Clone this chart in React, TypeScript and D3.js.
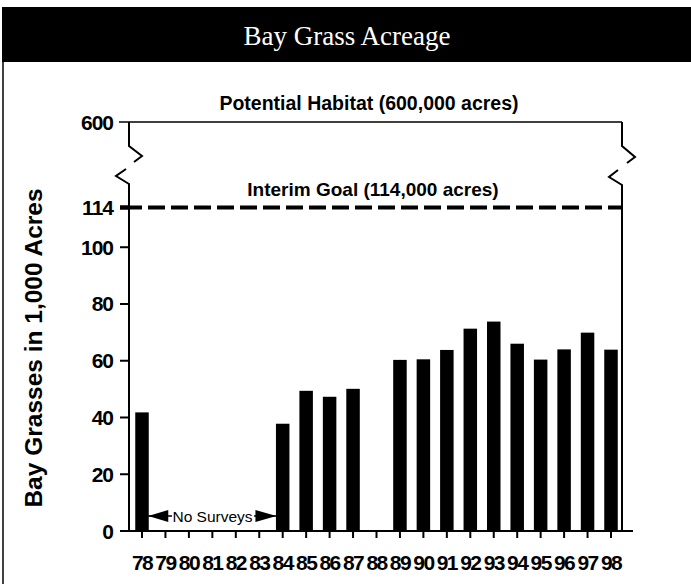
import React from "react";
import * as d3 from "d3";

const years = ["78","79","80","81","82","83","84","85","86","87","88","89","90","91","92","93","94","95","96","97","98"];
const acreage: (number | null)[] = [41.8, null, null, null, null, null, 37.8, 49.4, 47.3, 50.1, null, 60.3, 60.5, 63.8, 71.3, 73.8, 66.0, 60.4, 64.0, 69.9, 63.9];
const yTicks = [0, 20, 40, 60, 80, 100, 114, 600];
const potentialValue = 600;
const goalValue = 114;
const titleText = "Bay Grass Acreage";
const yLabel = "Bay Grasses in 1,000 Acres";
const potentialLabel = "Potential Habitat (600,000 acres)";
const goalLabel = "Interim Goal (114,000 acres)";
const noSurveyLabel = "No Surveys";

export default function App() {
  const W = 691, H = 584;
  const axL = 129, axR = 622;
  const y = d3.scaleLinear().domain([0, 114, 600]).range([531, 207.5, 122]);
  const x = d3.scalePoint<string>().domain(years).range([142, 611]);
  const barW = 13.5;
  const font = "'Liberation Sans', Arial, Helvetica, sans-serif";
  const y0 = y(0);
  const yTop = y(potentialValue);
  const yGoal = y(goalValue);
  const arrowY = 516;
  const xStart = (x("78") as number) + barW / 2 - 0.5;
  const xEnd = (x("84") as number) - barW / 2 + 0.5;

  return (
    <svg width={W} height={H} style={{ position: "absolute", left: 0, top: 0, background: "#fff" }}>
      <rect x={0} y={0} width={W} height={H} fill="#fff" />
      {/* header */}
      <rect x={2} y={7} width={W - 2} height={55} fill="#000" />
      <text x={347} y={45} textAnchor="middle" fill="#fff" fontFamily="'Liberation Serif', 'Times New Roman', serif" fontSize={27}>{titleText}</text>
      <line x1={3} x2={3} y1={62} y2={H} stroke="#000" strokeWidth={1.5} />

      {/* top potential line */}
      <line x1={119} x2={axR} y1={yTop} y2={yTop} stroke="#000" strokeWidth={1.5} />
      {/* left axis with break */}
      <path d={`M${axL},${yTop} L${axL},146 L142,156 L134,162 M126,169 L116,176 L${axL},184 L${axL},${y0}`} fill="none" stroke="#000" strokeWidth={2} />
      {/* right axis with break */}
      <path d={`M${axR},${yTop} L${axR},146 L635,157 L627,163 M618,170 L609,177 L${axR},185 L${axR},${y0}`} fill="none" stroke="#000" strokeWidth={2} />

      {/* goal dashed */}
      <line x1={120} x2={axR} y1={yGoal} y2={yGoal} stroke="#000" strokeWidth={4} strokeDasharray="22 6 17 6 17 6 17 6 17 6 17 6 17 6 17 6 17 6 17 6 17 6 17 6 17 6 17 6 17 6 17 6 17 6 17 6 17 6 17 6 17 6 17 6 17 6 17 6 17 6" />

      {/* annotations */}
      <text x={369} y={110} textAnchor="middle" fontFamily={font} fontWeight="bold" fontSize={19.5}>{potentialLabel}</text>
      <text x={373} y={196} textAnchor="middle" fontFamily={font} fontWeight="bold" fontSize={19}>{goalLabel}</text>

      {/* y ticks */}
      {yTicks.map(t => (
        <g key={t}>
          {t !== 600 && <line x1={120} x2={axL} y1={y(t)} y2={y(t)} stroke="#000" strokeWidth={t === 114 ? 4 : 2} />}
          <text x={113} y={y(t) + 7.5} textAnchor="end" fontFamily={font} fontWeight="bold" fontSize={21} letterSpacing={-1}>{t}</text>
        </g>
      ))}

      {/* y label */}
      <text transform={`translate(42,348) rotate(-90)`} textAnchor="middle" fontFamily={font} fontWeight="bold" fontSize={24.5}>{yLabel}</text>

      {/* bars */}
      {years.map((yr, i) => acreage[i] == null ? null : (
        <rect key={yr} x={(x(yr) as number) - barW / 2} y={y(acreage[i] as number)} width={barW} height={y0 - y(acreage[i] as number)} fill="#000" />
      ))}

      {/* x axis */}
      <line x1={121} x2={633} y1={y0} y2={y0} stroke="#000" strokeWidth={2} />
      {years.map(yr => (
        <g key={yr}>
          <line x1={x(yr)} x2={x(yr)} y1={y0} y2={y0 + 7} stroke="#000" strokeWidth={2} />
          <text x={x(yr)} y={570} textAnchor="middle" fontFamily={font} fontWeight="bold" fontSize={21} letterSpacing={-1.6}>{yr}</text>
        </g>
      ))}

      {/* no surveys */}
      <line x1={xStart} x2={xEnd} y1={arrowY} y2={arrowY} stroke="#000" strokeWidth={1.5} />
      <polygon points={`${xStart},${arrowY} ${xStart + 20},${arrowY - 6} ${xStart + 20},${arrowY + 6}`} fill="#000" />
      <polygon points={`${xEnd},${arrowY} ${xEnd - 21},${arrowY - 6} ${xEnd - 21},${arrowY + 6}`} fill="#000" />
      <rect x={172} y={arrowY - 10} width={82} height={18} fill="#fff" />
      <text x={212.5} y={arrowY + 5.5} textAnchor="middle" fontFamily={font} fontSize={15.5}>{noSurveyLabel}</text>
    </svg>
  );
}
